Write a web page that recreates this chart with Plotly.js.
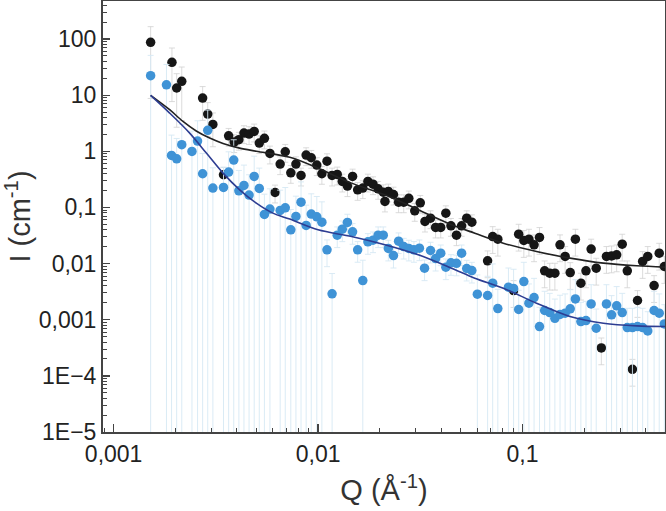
<!DOCTYPE html>
<html>
<head>
<meta charset="utf-8">
<script src="https://cdn.plot.ly/plotly-3.0.1.min.js"></script>
<style>html,body{margin:0;padding:0;background:#fff;}#chart{width:666px;height:511px;}</style>
</head>
<body>
<div id="chart"></div>
<script>
// ---- data ----
const blackQ = [0.001517,0.001929,0.002034,0.002154,0.002725,0.002886,0.003058,0.003447,0.003652,0.003887,
  0.004098,0.00434,0.004597,0.00487,0.005158,0.005464,0.005815,0.00616,0.006525,0.006911,
  0.007356,0.007793,0.008254,0.008743,0.009261,0.009857,0.01044,0.01106,0.01171,0.01241,
  0.01314,0.01392,0.01475,0.01562,0.01655,0.01753,0.01857,0.01967,0.02084,0.02124,
  0.02207,0.02338,0.02477,0.02624,0.02779,0.02971,0.03162,0.03334,0.03548,0.03758,
  0.03981,0.04217,0.04467,0.04754,0.05036,0.05334,0.05651,0.06749,0.07148,0.07573,
  0.09043,0.09578,0.1015,0.1075,0.1139,0.1211,0.1283,0.1359,0.144,0.1526,
  0.1616,0.1712,0.1814,0.193,0.2044,0.2166,0.2294,0.243,0.2574,0.2727,
  0.2888,0.3074,0.3255,0.3449,0.3652,0.3869,0.4099,0.4402,0.4664,0.4941];
const blackI = [87.3,38.4,13.4,17.6,8.88,4.60,3.01,0.382,1.89,1.46,
  1.61,2.11,2.03,2.26,1.40,1.70,0.916,0.185,0.591,0.981,
  0.414,0.591,0.371,0.855,0.767,0.568,0.398,0.668,0.371,0.387,
  0.290,0.240,0.356,0.206,0.221,0.290,0.260,0.215,0.187,0.128,
  0.193,0.170,0.124,0.124,0.145,0.0871,0.121,0.0562,0.0644,0.0440,
  0.0440,0.0791,0.0471,0.0321,0.0471,0.0644,0.0547,0.0112,0.0303,0.0272,
  0.00331,0.0334,0.0258,0.0272,0.0216,0.0292,0.00742,0.00675,0.00675,0.0216,
  0.0134,0.00693,0.0272,0.00448,0.00742,0.0181,0.00828,0.000315,0.0134,0.0137,
  0.0143,0.0222,0.00742,0.000131,0.00220,0.0109,0.0134,0.00406,0.0153,0.00887];
const blackRelErr = [0.9,0.8,0.8,0.8,0.6,0.6,0.6,0.35,0.35,0.35,
  0.35,0.35,0.35,0.35,0.35,0.35,0.35,0.35,0.35,0.35,
  0.35,0.35,0.35,0.35,0.35,0.35,0.35,0.35,0.35,0.35,
  0.35,0.35,0.35,0.35,0.35,0.35,0.35,0.35,0.35,0.35,
  0.35,0.35,0.35,0.35,0.35,0.35,0.35,0.35,0.35,0.35,
  0.35,0.35,0.35,0.35,0.35,0.35,0.35,0.5,0.5,0.5,
  0.5,0.5,0.5,0.5,0.5,0.5,0.5,0.5,0.5,0.5,
  0.5,0.5,0.5,0.5,0.5,0.5,0.5,0.5,0.5,0.5,
  0.5,0.5,0.5,0.5,0.5,0.5,0.5,0.5,0.5,0.5];

const blueQ = [0.001517,0.001813,0.00192,0.002034,0.002154,0.002416,0.002573,0.002725,0.002886,0.003058,
  0.003447,0.003652,0.003868,0.004098,0.00434,0.004597,0.00487,0.005158,0.005464,0.005815,
  0.006525,0.006911,0.007356,0.007793,0.008254,0.008743,0.009261,0.009857,0.01044,0.01106,
  0.01171,0.01241,0.01314,0.01392,0.01475,0.01562,0.01655,0.01753,0.01857,0.01967,
  0.02084,0.02207,0.02338,0.02477,0.02624,0.02779,0.02943,0.03132,0.03318,0.03548,
  0.03758,0.03981,0.04217,0.04467,0.04754,0.05036,0.05334,0.05651,0.06015,0.06749,
  0.07148,0.07573,0.08536,0.09043,0.09578,0.1015,0.1075,0.1139,0.1211,0.1283,
  0.1359,0.144,0.1526,0.1616,0.1712,0.1814,0.193,0.2044,0.2166,0.2294,
  0.2574,0.2727,0.2888,0.3074,0.3255,0.3449,0.3652,0.3869,0.4099,0.4402,
  0.4664,0.4941];
const blueI = [22.2,15.3,0.844,0.736,1.31,0.995,1.52,0.398,2.36,0.221,
  0.227,0.426,0.697,0.198,0.247,0.166,0.356,0.218,0.0749,0.0933,
  0.0883,0.0985,0.0399,0.0690,0.124,0.0477,0.0760,0.0681,0.0547,0.0176,
  0.00289,0.0321,0.0410,0.0540,0.0368,0.0176,0.00499,0.0244,0.0261,0.0321,
  0.0321,0.0186,0.0139,0.0251,0.0201,0.0186,0.0176,0.0188,0.00828,0.0171,
  0.0123,0.0153,0.00863,0.0103,0.0101,0.0153,0.00817,0.00752,0.00285,0.00270,
  0.00448,0.00158,0.00379,0.00360,0.00152,0.00479,0.00197,0.00248,0.000755,0.00146,
  0.00134,0.00106,0.00124,0.00131,0.00156,0.00235,0.000927,0.000966,0.00191,0.000705,
  0.00191,0.00122,0.00177,0.00134,0.000725,0.000725,0.000755,0.000725,0.000632,0.00146,
  0.00131,0.000843];
const blueRelErr = [1.3,1.3,1.3,1.3,1.3,1.3,1.3,1.3,1.3,1.3,
  1.3,1.3,1.3,1.3,1.3,1.3,1.3,1.3,1.3,1.3,
  1.3,1.3,1.3,1.3,1.3,1.3,1.3,1.3,1.3,0.5,
  1.3,0.4,0.4,0.4,0.4,0.4,1.3,0.4,0.4,0.4,
  0.4,0.4,0.4,0.4,0.4,0.4,0.4,0.4,0.4,0.4,
  0.4,0.4,0.4,0.4,0.4,0.4,0.4,0.4,1.2,1.2,
  1.2,1.2,1.2,1.2,1.2,1.2,1.2,1.2,1.2,1.2,
  1.2,1.2,1.2,1.2,1.2,1.2,1.2,1.2,1.2,1.2,
  1.2,1.2,1.2,1.2,1.2,1.2,1.2,1.2,1.2,1.2,
  1.2,1.2];

const blackFitQ = [0.001517,0.001879,0.002183,0.002536,0.002951,0.003428,0.004137,0.004989,0.00727,0.01,0.01457,0.02123,0.03088,0.04498,0.05843,0.08054,0.1171,0.1707,0.2488,0.3617,0.4989];
const blackFitI = [9.9,5.5,3.4,2.3,1.72,1.38,1.14,1.0,0.78,0.50,0.271,0.168,0.0907,0.049,0.0348,0.0231,0.0164,0.0125,0.01017,0.00912,0.00863];
const blueFitQ = [0.001517,0.001879,0.002355,0.002842,0.003428,0.004137,0.004989,0.00601,0.00727,0.01,0.01457,0.02123,0.03088,0.04498,0.05843,0.08054,0.1171,0.1707,0.2488,0.3617,0.4989];
const blueFitI = [9.9,4.8,2.11,0.929,0.409,0.206,0.119,0.0791,0.062,0.0399,0.0303,0.0216,0.0143,0.00828,0.0055,0.00364,0.00197,0.00114,0.000867,0.000776,0.000755];

const xTickVals = [0.001, 0.01, 0.1];
const xTickText = ['0,001', '0,01', '0,1'];
const yTickVals = [1e-5, 1e-4, 0.001, 0.01, 0.1, 1, 10, 100];
const yTickText = ['1E\u22125', '1E\u22124', '0,001', '0,01', '0,1', '1', '10', '100'];

// minor tick positions (2..9 per decade)
function minorVals(lo, hi) {
  const out = [];
  for (let e = lo; e <= hi; e++) for (let m = 2; m <= 9; m++) out.push(m * Math.pow(10, e));
  return out;
}

const blackErr = blackI.map((v, i) => v * blackRelErr[i]);
const blueErr = blueI.map((v, i) => v * blueRelErr[i]);

const traces = [
  {x: blackQ, y: blackI, type: 'scatter', mode: 'markers',
   marker: {color: '#161616', size: 9.5},
   error_y: {type: 'data', array: blackErr, visible: true, color: '#d2d2d2', thickness: 0.8, width: 3},
   hoverinfo: 'x+y', showlegend: false},
  {x: blueQ, y: blueI, type: 'scatter', mode: 'markers',
   marker: {color: '#3f93d6', size: 9.5},
   error_y: {type: 'data', array: blueErr, visible: true, color: '#d6e9f4', thickness: 0.9, width: 3},
   hoverinfo: 'x+y', showlegend: false},
  {x: blackFitQ, y: blackFitI, type: 'scatter', mode: 'lines',
   line: {color: '#222222', width: 1.6, shape: 'spline', smoothing: 0.9}, showlegend: false},
  {x: blueFitQ, y: blueFitI, type: 'scatter', mode: 'lines',
   line: {color: '#2d3d92', width: 1.6, shape: 'spline', smoothing: 0.9}, showlegend: false}
];

const fontFam = '"Liberation Sans", Arial, sans-serif';
const layout = {
  width: 666, height: 511,
  margin: {l: 103, r: 1, t: 1, b: 79},
  paper_bgcolor: '#ffffff', plot_bgcolor: '#ffffff',
  showlegend: false,
  font: {family: fontFam, color: '#222'},
  xaxis: {
    type: 'log', range: [-3.052, -0.303],
    tickmode: 'array', tickvals: xTickVals, ticktext: xTickText,
    ticks: 'inside', ticklen: 8, tickwidth: 1.3, tickcolor: '#444',
    minor: {tickmode: 'array', tickvals: minorVals(-4, 0), ticks: 'inside', ticklen: 4, tickwidth: 1, tickcolor: '#444', showgrid: false},
    showline: true, linecolor: '#444', linewidth: 2, mirror: true,
    showgrid: false, zeroline: false,
    tickfont: {size: 23, color: '#222', family: fontFam},
    title: {text: 'Q (Å<sup>-1</sup>)', font: {size: 29, color: '#333', family: fontFam}, standoff: 14}
  },
  yaxis: {
    type: 'log', range: [-5, 2.677],
    tickmode: 'array', tickvals: yTickVals, ticktext: yTickText,
    ticks: 'inside', ticklen: 7, tickwidth: 1.3, tickcolor: '#444',
    minor: {tickmode: 'array', tickvals: minorVals(-6, 3), ticks: 'inside', ticklen: 4, tickwidth: 1, tickcolor: '#444', showgrid: false},
    showline: true, linecolor: '#444', linewidth: 2, mirror: true,
    showgrid: false, zeroline: false,
    tickfont: {size: 23, color: '#222', family: fontFam},
    title: {text: 'I (cm<sup>-1</sup>)', font: {size: 29, color: '#333', family: fontFam}, standoff: 6}
  }
};

Plotly.newPlot('chart', traces, layout, {staticPlot: true, displayModeBar: false});
</script>
</body>
</html>
